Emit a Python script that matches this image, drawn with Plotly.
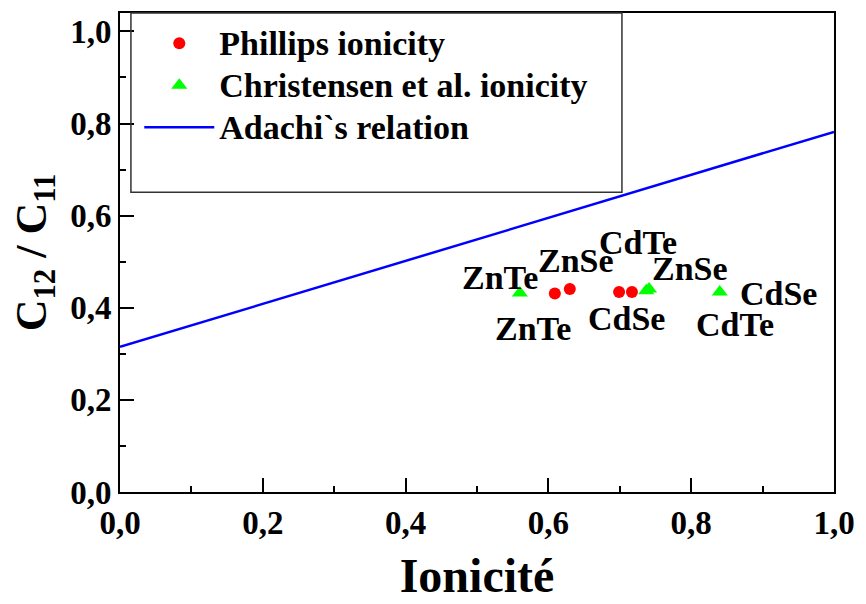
import plotly.graph_objects as go

# Phillips ionicity points
phillips_x = [0.609, 0.630, 0.699, 0.717]
phillips_y = [0.431, 0.441, 0.434, 0.434]

# Christensen et al. ionicity points
christ_x = [0.560, 0.737, 0.741, 0.840]
christ_y = [0.432, 0.437, 0.441, 0.434]

# Adachi's relation (straight line)
adachi_x = [0.0, 1.0]
adachi_y = [0.315, 0.782]

# Compound labels
label_text = ["ZnTe", "ZnSe", "CdTe", "ZnSe", "CdSe", "ZnTe", "CdSe", "CdTe"]
label_x = [0.532, 0.639, 0.725, 0.799, 0.922, 0.578, 0.710, 0.861]
label_y = [0.465, 0.502, 0.542, 0.486, 0.431, 0.356, 0.377, 0.363]

x_ticks = [0.0, 0.2, 0.4, 0.6, 0.8, 1.0]
y_ticks = [0.0, 0.2, 0.4, 0.6, 0.8, 1.0]

FONT = "Liberation Serif, Times New Roman, serif"


def serif(size):
    return dict(family=FONT, size=size, color="black", weight="bold")


def legend_label(text):
    # larger glyphs than the legend row spacing implies
    return '<span style="font-size:34px"><b>%s</b></span>' % text


fig = go.Figure()
fig.add_trace(go.Scatter(
    x=phillips_x, y=phillips_y, mode="markers", name=legend_label("Phillips ionicity"),
    marker=dict(symbol="circle", size=12, color="#ff0000"),
))
fig.add_trace(go.Scatter(
    x=christ_x, y=christ_y, mode="markers",
    name=legend_label("Christensen et al. ionicity"),
    marker=dict(symbol="triangle-up", size=14, color="#00ff00"),
))
fig.add_trace(go.Scatter(
    x=adachi_x, y=adachi_y, mode="lines", name=legend_label("Adachi`s relation"),
    line=dict(color="#0000ff", width=2.5),
))

for t, x, y in zip(label_text, label_x, label_y):
    fig.add_annotation(x=x, y=y, text="<b>%s</b>" % t, showarrow=False,
                       font=serif(34), xanchor="center", yanchor="middle")

# legend frame
fig.add_shape(type="rect", xref="paper", yref="paper",
              x0=0.0153, x1=0.703, y0=0.626, y1=1.0,
              line=dict(color="#333333", width=1.5), fillcolor="rgba(0,0,0,0)")

axis_common = dict(
    showline=True, linecolor="black", linewidth=2, mirror=True,
    ticks="inside", ticklen=14, tickwidth=2, tickcolor="black",
    showgrid=False, zeroline=False,
    tickfont=serif(33),
    minor=dict(ticks="inside", ticklen=6, tickwidth=2, tickcolor="black", dtick=0.1),
)

fig.update_layout(
    width=866, height=604,
    margin=dict(l=120, r=25, t=11, b=108),
    paper_bgcolor="white", plot_bgcolor="white",
    font=serif(30),
    showlegend=True,
    legend=dict(
        x=0.027, y=0.991, xanchor="left", yanchor="top",
        bgcolor="rgba(0,0,0,0)", borderwidth=0,
        font=serif(30),
        itemwidth=70, tracegroupgap=0,
    ),
    xaxis=dict(axis_common, range=[0, 1.0], tickvals=x_ticks,
               ticktext=["<b>%s</b>" % f"{v:.1f}".replace(".", ",") for v in x_ticks],
               title=dict(text="<b>Ionicité</b>", standoff=19, font=serif(48))),
    yaxis=dict(axis_common, range=[0, 1.04], tickvals=y_ticks,
               ticktext=["<b>%s</b>" % f"{v:.1f}".replace(".", ",") for v in y_ticks],
               title=dict(text="<b>C<sub>12</sub> / C<sub>11</sub></b>", standoff=10,
                          font=serif(44))),
)

fig.write_html("out.html")
